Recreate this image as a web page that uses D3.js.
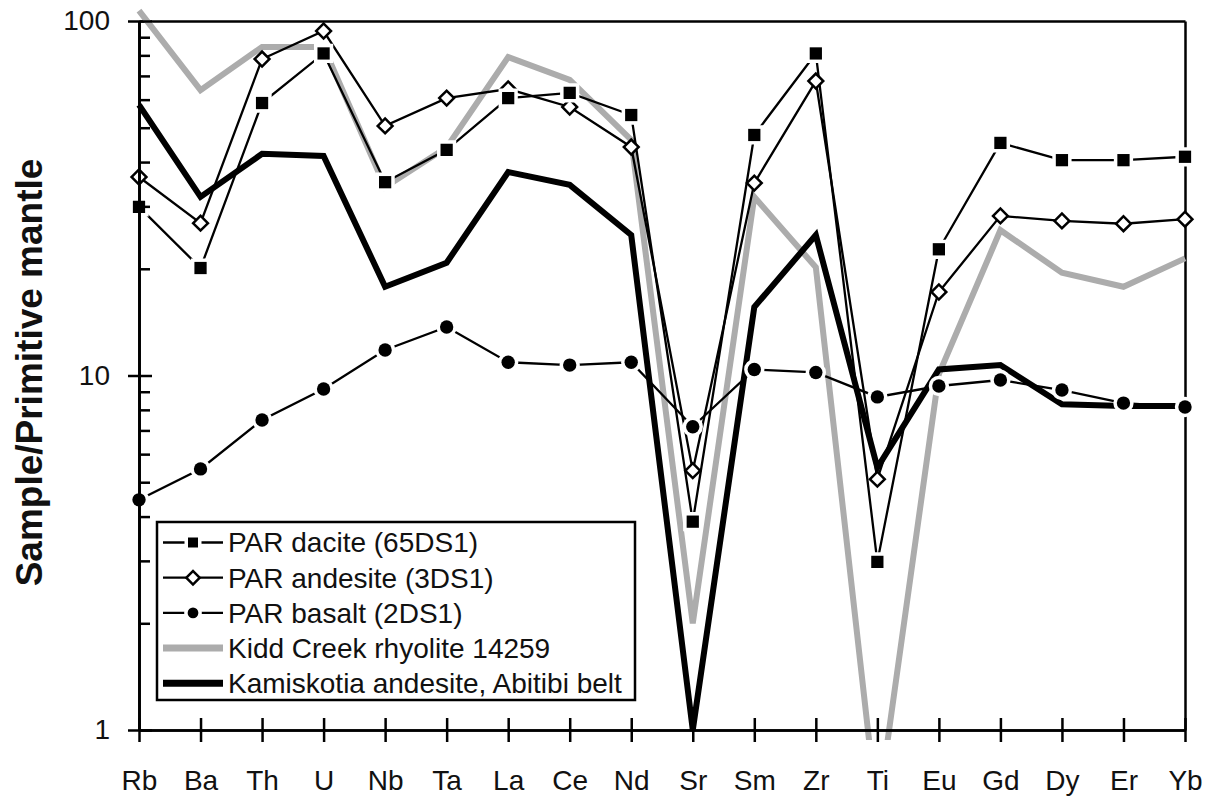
<!DOCTYPE html>
<html>
<head>
<meta charset="utf-8">
<script src="https://cdn.jsdelivr.net/npm/d3@7"></script>
<style>
  html, body { margin: 0; padding: 0; background: #fff; }
  svg { display: block; font-family: "Liberation Sans", Arial, Helvetica, sans-serif; }
</style>
</head>
<body>
<svg id="chart" width="1216" height="798"></svg>
<script>
// ---- data ----
const elements = ["Rb","Ba","Th","U","Nb","Ta","La","Ce","Nd","Sr","Sm","Zr","Ti","Eu","Gd","Dy","Er","Yb"];
const dacite   = [29.9, 20.1, 58.7, 81.0, 35.1, 43.3, 60.6, 62.7, 54.3, 3.87, 47.7, 81.0, 2.98, 22.7, 45.3, 40.5, 40.5, 41.4];
const andesite = [36.3, 26.9, 78.1, 93.7, 50.6, 60.6, 64.3, 57.2, 44.1, 5.39, 34.9, 67.7, 5.10, 17.2, 28.2, 27.3, 26.8, 27.6];
const basalt   = [4.46, 5.45, 7.49, 9.16, 11.8, 13.7, 10.9, 10.7, 10.9, 7.17, 10.4, 10.2, 8.70, 9.34, 9.71, 9.10, 8.36, 8.15];
const kidd     = [107, 63.8, 84.5, 84.5, 34.0, 44.0, 79.1, 68.2, 46.2, 2.00, 31.9, 20.2, 0.58, 10.1, 25.7, 19.5, 17.8, 21.4];
const kamis    = [58.0, 31.9, 42.2, 41.6, 17.8, 20.8, 37.5, 34.5, 24.9, 1.00, 15.6, 24.9, 5.50, 10.4, 10.7, 8.30, 8.20, 8.20];
const yMajorTicks = [1, 10, 100];
const yMinorTicks = [2,3,4,5,6,7,8,9,20,30,40,50,60,70,80,90];
const seriesNames = ["PAR dacite (65DS1)", "PAR andesite (3DS1)", "PAR basalt (2DS1)", "Kidd Creek rhyolite 14259", "Kamiskotia andesite, Abitibi belt"];
const yTitle = "Sample/Primitive mantle";

// ---- layout ----
const X0 = 139, X1 = 1185, Y0 = 730, Y1 = 21;
const svg = d3.select("#chart");
const x = d3.scalePoint().domain(elements).range([X0, X1]);
const y = d3.scaleLog().domain([1, 100]).range([Y0, Y1]);

const AX = 2.5;
function styleAxis(g) {
  g.selectAll("path.domain").attr("stroke", "#000").attr("stroke-width", AX);
  g.selectAll(".tick line").attr("stroke", "#000").attr("stroke-width", AX);
  g.selectAll(".tick text").attr("fill", "#111").attr("font-size", 28);
}

// frame top & right
svg.append("g").attr("transform", `translate(0,${Y1})`)
  .call(d3.axisTop(x).tickSize(0).tickFormat(""))
  .call(styleAxis);
svg.append("g").attr("transform", `translate(${X1},0)`)
  .call(d3.axisLeft(y).tickValues([]).tickSizeOuter(0))
  .call(styleAxis);

// clip
svg.append("clipPath").attr("id", "clip").append("rect")
  .attr("x", 100).attr("y", 0).attr("width", 1110).attr("height", 740);

const plot = svg.append("g").attr("clip-path", "url(#clip)");
const line = d3.line().x((d, i) => x(elements[i])).y(d => y(d));

// Kidd Creek (grey thick)
plot.append("path").datum(kidd).attr("d", line)
  .attr("fill", "none").attr("stroke", "#acacac").attr("stroke-width", 6).attr("stroke-linejoin", "miter");
// Kamiskotia (black thick)
plot.append("path").datum(kamis).attr("d", line)
  .attr("fill", "none").attr("stroke", "#000").attr("stroke-width", 6).attr("stroke-linejoin", "miter");

// thin series
plot.append("path").datum(andesite).attr("d", line)
  .attr("fill", "none").attr("stroke", "#000").attr("stroke-width", 2.3);
plot.append("path").datum(basalt).attr("d", line)
  .attr("fill", "none").attr("stroke", "#000").attr("stroke-width", 2.3);
plot.append("path").datum(dacite).attr("d", line)
  .attr("fill", "none").attr("stroke", "#000").attr("stroke-width", 2.3);

const sqSym = d3.symbol().type(d3.symbolSquare).size(150);
const diaSym = d3.symbol().type(d3.symbolSquare).size(110);
const cirSym = d3.symbol().type(d3.symbolCircle).size(140);

function drawCircles(g, data) {
  g.selectAll(null).data(data).enter().append("path")
    .attr("d", cirSym)
    .attr("transform", (d, i) => `translate(${x(elements[i])},${y(d)})`)
    .attr("fill", "#000").attr("stroke", "#fff").attr("stroke-width", 7)
    .style("paint-order", "stroke");
}
function drawDiamonds(g, data) {
  g.selectAll(null).data(data).enter().append("path")
    .attr("d", diaSym)
    .attr("transform", (d, i) => `translate(${x(elements[i])},${y(d)}) rotate(45)`)
    .attr("fill", "#fff").attr("stroke", "#000").attr("stroke-width", 2.5);
}
function drawSquares(g, data) {
  g.selectAll(null).data(data).enter().append("path")
    .attr("d", sqSym)
    .attr("transform", (d, i) => `translate(${x(elements[i])},${y(d)})`)
    .attr("fill", "#000").attr("stroke", "#fff").attr("stroke-width", 7)
    .style("paint-order", "stroke");
}
drawCircles(plot.append("g"), basalt);
drawDiamonds(plot.append("g"), andesite);
drawSquares(plot.append("g"), dacite);

// ---- axes ----
// left axis: labels + outer major ticks
svg.append("g").attr("transform", `translate(${X0},0)`)
  .call(d3.axisLeft(y).tickValues(yMajorTicks).tickFormat(d3.format("d")).tickSize(11).tickSizeOuter(0).tickPadding(18))
  .call(styleAxis);
// inner major ticks
svg.append("g").attr("transform", `translate(${X0},0)`)
  .call(d3.axisRight(y).tickValues(yMajorTicks).tickFormat("").tickSize(13).tickSizeOuter(0))
  .call(styleAxis);
// inner minor ticks
svg.append("g").attr("transform", `translate(${X0},0)`)
  .call(d3.axisRight(y).tickValues(yMinorTicks).tickFormat("").tickSize(11).tickSizeOuter(0))
  .call(styleAxis);

// bottom axis
svg.append("g").attr("transform", `translate(0,${Y0})`)
  .call(d3.axisBottom(x).tickSize(12).tickSizeOuter(0).tickPadding(28))
  .call(styleAxis);
svg.append("g").attr("transform", `translate(0,${Y0})`)
  .call(d3.axisTop(x).tickSize(12).tickSizeOuter(0).tickFormat(""))
  .call(styleAxis);

// y title
svg.append("text")
  .attr("transform", `translate(42,${(157 + 588) / 2}) rotate(-90)`)
  .attr("text-anchor", "middle")
  .attr("font-size", 37).attr("font-weight", "bold").attr("fill", "#111")
  .text(yTitle);

// ---- legend ----
const legend = svg.append("g");
legend.append("rect").attr("x", 157).attr("y", 522).attr("width", 478).attr("height", 178)
  .attr("fill", "#fff").attr("stroke", "#000").attr("stroke-width", 2.5);
const rowY = d => 542.5 + d * 35.2;
const lx0 = 163, lx1 = 223, lxm = 193;
const legLine = d3.line();
seriesNames.forEach((name, i) => {
  const yy = rowY(i);
  const g = legend.append("g");
  const sw = i === 3 || i === 4 ? 7 : 2.3;
  const col = i === 3 ? "#acacac" : "#000";
  g.append("path").attr("d", legLine([[lx0, yy], [lx1, yy]]))
    .attr("stroke", col).attr("stroke-width", sw).attr("fill", "none");
  if (i === 0) {
    g.append("path").attr("d", d3.symbol().type(d3.symbolSquare).size(100))
      .attr("transform", `translate(${lxm},${yy})`)
      .attr("fill", "#000").attr("stroke", "#fff").attr("stroke-width", 7).style("paint-order", "stroke");
  } else if (i === 1) {
    g.append("path").attr("d", d3.symbol().type(d3.symbolSquare).size(90))
      .attr("transform", `translate(${lxm},${yy}) rotate(45)`)
      .attr("fill", "#fff").attr("stroke", "#000").attr("stroke-width", 2.5);
  } else if (i === 2) {
    g.append("path").attr("d", d3.symbol().type(d3.symbolCircle).size(90))
      .attr("transform", `translate(${lxm},${yy})`)
      .attr("fill", "#000").attr("stroke", "#fff").attr("stroke-width", 7).style("paint-order", "stroke");
  }
  g.append("text").attr("x", 228).attr("y", yy).attr("dy", "0.35em")
    .attr("font-size", 28).attr("fill", "#111").text(name);
});
</script>
</body>
</html>
